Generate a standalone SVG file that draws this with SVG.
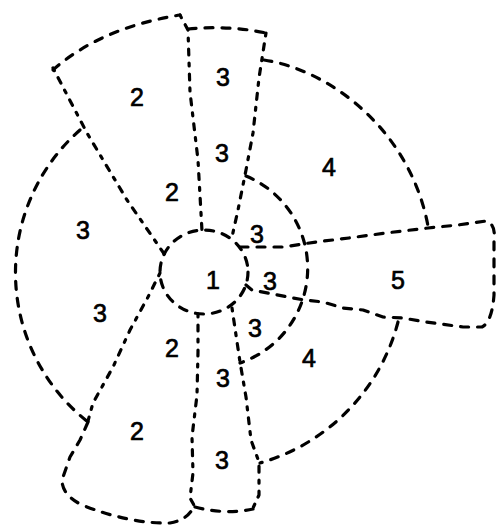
<svg xmlns="http://www.w3.org/2000/svg" width="496" height="527" viewBox="0 0 496 527">
<style>
.ln{fill:none;stroke:#000;stroke-width:3.2;stroke-linecap:round;stroke-linejoin:round}
.a{stroke-dasharray:8 9}
.r{stroke-dasharray:3 8 6 8}
.t{font-family:"Liberation Sans","DejaVu Sans",sans-serif;font-size:25px;fill:#000;stroke:#000;stroke-width:0.7;text-anchor:middle;dominant-baseline:central}
</style>
<rect width="496" height="527" fill="#fff"/>
<g id="connectors">
<ellipse class="ln a" cx="204" cy="272" rx="44" ry="42"/>
<path class="ln r" d="M53,68 L87,133 L127,200 L167,258"/>
<path class="ln a" d="M53,70 Q100,28 180,15"/>
<path class="ln r" d="M180,15 L188,30 L190,92 L198,160 L202,231"/>
<path class="ln a" d="M188,29 Q228,25 266,33"/>
<path class="ln r" d="M266,33 L259,78 L253,133 L246,170 L238,210 L232,237"/>
<path class="ln a" d="M264,60 C330,70 410,130 428,226"/>
<path class="ln a" d="M240,247 L283,247 L316,242 L349,238 L386,233 L428,228 L458,225 L486,221 Q496,224 494,240 L494,295 Q492,322 482,327 L463,327 L426,322 L403,318 L383,317 L363,310 L343,308 L323,302 L304,300 L288,297 L252,290 L246,285"/>
<path class="ln a" d="M246,176 A100,100 0 0 1 240,363"/>
<path class="ln a" d="M398,322 A199,199 0 0 1 260,463"/>
<path class="ln r" d="M232,308 L240,362 L246,397 L251,440 L259,462 L259,495 L253,508"/>
<path class="ln a" d="M195,507 Q225,515 253,509"/>
<path class="ln r" d="M198,314 L198,352 L197,395 L192,437 L193,473 L190,498 L195,507"/>
<path class="ln a" d="M88,422 L80,440 L70,457 L62,480 Q62,495 82,505 Q130,524 170,523 Q188,520 194,506"/>
<path class="ln r" d="M160,273 L148,297 L130,330 L113,367 L93,403 L88,421"/>
<path class="ln a" d="M80,130 A190,190 0 0 0 88,422"/>
</g>
<g id="n1"><text class="t" x="213" y="280">1</text></g>
<g id="n2a"><text class="t" x="137" y="97">2</text></g>
<g id="n3a"><text class="t" x="223" y="77">3</text></g>
<g id="n3b"><text class="t" x="222" y="153">3</text></g>
<g id="n2b"><text class="t" x="172" y="192">2</text></g>
<g id="n4a"><text class="t" x="329" y="167">4</text></g>
<g id="n3c"><text class="t" x="83" y="230">3</text></g>
<g id="n3d"><text class="t" x="257" y="234">3</text></g>
<g id="n3e"><text class="t" x="270" y="281">3</text></g>
<g id="n5"><text class="t" x="398" y="280">5</text></g>
<g id="n3f"><text class="t" x="100" y="313">3</text></g>
<g id="n3g"><text class="t" x="255" y="328">3</text></g>
<g id="n2c"><text class="t" x="172" y="348">2</text></g>
<g id="n4b"><text class="t" x="309" y="358">4</text></g>
<g id="n3h"><text class="t" x="223" y="378">3</text></g>
<g id="n2d"><text class="t" x="137" y="431">2</text></g>
<g id="n3i"><text class="t" x="222" y="460">3</text></g>
</svg>
